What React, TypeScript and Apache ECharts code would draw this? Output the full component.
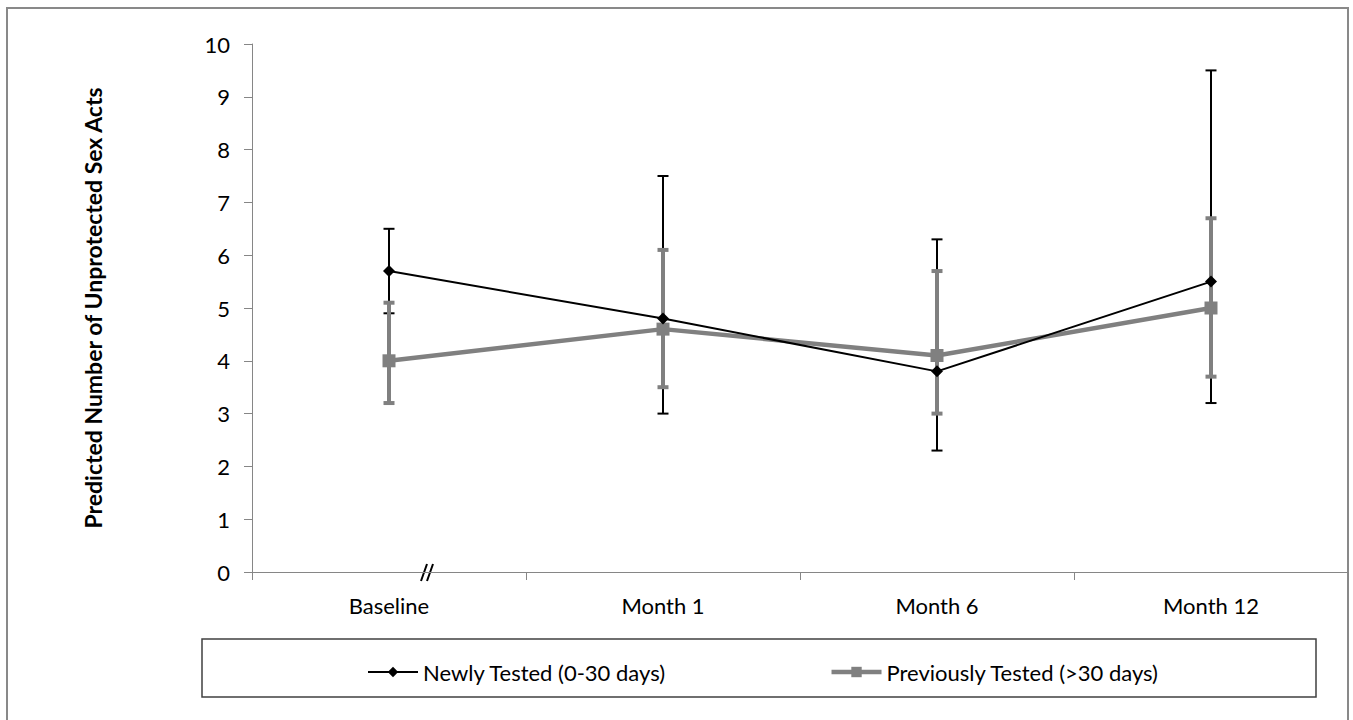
import React, { useEffect, useRef } from "react";
import * as echarts from "echarts";

const categories = ["Baseline", "Month 1", "Month 6", "Month 12"];
const newlyName = "Newly Tested (0-30 days)";
const prevName = "Previously Tested (>30 days)";
const newlyValues = [5.7, 4.8, 3.8, 5.5];
const newlyLow = [4.9, 3.0, 2.3, 3.2];
const newlyHigh = [6.5, 7.5, 6.3, 9.5];
const prevValues = [4.0, 4.6, 4.1, 5.0];
const prevLow = [3.2, 3.5, 3.0, 3.7];
const prevHigh = [5.1, 6.1, 5.7, 6.7];
const yTitle = "Predicted Number of Unprotected Sex Acts";

const FONT = "Lato, 'Open Sans', sans-serif";
const GRAY = "#808080";

function errSeries(low: number[], high: number[], color: string, width: number, capHalf: number) {
  return {
    type: "custom",
    data: low.map((l, i) => [i, l, high[i]]),
    encode: { x: 0, y: [1, 2] },
    renderItem: (_params: any, api: any) => {
      const x = api.value(0);
      const pLo = api.coord([x, api.value(1)]);
      const pHi = api.coord([x, api.value(2)]);
      const style = { stroke: color, lineWidth: width, fill: "none" };
      return {
        type: "group",
        children: [
          { type: "line", shape: { x1: pHi[0], y1: pHi[1], x2: pLo[0], y2: pLo[1] }, style },
          { type: "line", shape: { x1: pHi[0] - capHalf, y1: pHi[1], x2: pHi[0] + capHalf, y2: pHi[1] }, style },
          { type: "line", shape: { x1: pLo[0] - capHalf, y1: pLo[1], x2: pLo[0] + capHalf, y2: pLo[1] }, style },
        ],
      };
    },
    silent: true,
  };
}

export default function App() {
  const ref = useRef<HTMLDivElement>(null);
  useEffect(() => {
    if (!ref.current) return;
    const chart = echarts.init(ref.current, undefined, { renderer: "svg" });
    chart.setOption({
      animation: false,
      backgroundColor: "#ffffff",
      textStyle: { fontFamily: FONT },
      grid: { left: 252, top: 44, right: 5, bottom: 148 },
      xAxis: {
        type: "category",
        data: categories,
        boundaryGap: true,
        axisLine: { show: true, lineStyle: { color: "#868686", width: 1 } },
        axisTick: { show: true, length: 8, lineStyle: { color: "#868686" } },
        axisLabel: { color: "#000", fontSize: 22, fontFamily: FONT, margin: 22 },
        splitLine: { show: false },
      },
      yAxis: {
        type: "value",
        min: 0,
        max: 10,
        interval: 1,
        name: yTitle,
        nameLocation: "middle",
        nameGap: 148,
        nameTextStyle: { color: "#000", fontSize: 23, fontWeight: "bold", fontFamily: FONT },
        axisLine: { show: true, lineStyle: { color: "#868686", width: 1 } },
        axisTick: { show: true, length: 8, lineStyle: { color: "#868686" } },
        axisLabel: { color: "#000", fontSize: 22, fontFamily: FONT, margin: 22 },
        splitLine: { show: false },
      },
      legend: {
        data: [
          { name: newlyName, lineStyle: { width: 2 } },
          { name: prevName, lineStyle: { width: 4.5 } },
        ],
        left: 362,
        top: 656,
        itemWidth: 50,
        itemHeight: 13,
        itemGap: 163,
        textStyle: { color: "#000", fontSize: 22, fontFamily: FONT },
      },
      graphic: [
        {
          type: "rect",
          shape: { x: 7, y: 8, width: 1341, height: 730 },
          style: { fill: "none", stroke: "#898989", lineWidth: 2 },
          silent: true,
        },
        {
          type: "rect",
          shape: { x: 202, y: 639, width: 1114, height: 58 },
          style: { fill: "none", stroke: "#404040", lineWidth: 1.5 },
          silent: true,
        },
        {
          type: "line",
          shape: { x1: 421, y1: 581, x2: 427, y2: 564 },
          style: { stroke: "#000", lineWidth: 2 },
          silent: true,
        },
        {
          type: "line",
          shape: { x1: 427, y1: 581, x2: 433, y2: 564 },
          style: { stroke: "#000", lineWidth: 2 },
          silent: true,
        },
      ],
      series: [
        errSeries(newlyLow, newlyHigh, "#000", 2, 5.5),
        errSeries(prevLow, prevHigh, GRAY, 4, 5.5),
        {
          name: prevName,
          type: "line",
          data: prevValues,
          symbol: "rect",
          symbolSize: 13,
          lineStyle: { color: GRAY, width: 4.5 },
          itemStyle: { color: GRAY },
          z: 3,
        },
        {
          name: newlyName,
          type: "line",
          data: newlyValues,
          symbol: "diamond",
          symbolSize: 12,
          lineStyle: { color: "#000", width: 2 },
          itemStyle: { color: "#000" },
          z: 4,
        },
      ],
    });
    return () => chart.dispose();
  }, []);
  return (
    <div
      ref={ref}
      style={{ position: "absolute", left: 0, top: 0, width: 1353, height: 720 }}
    />
  );
}
